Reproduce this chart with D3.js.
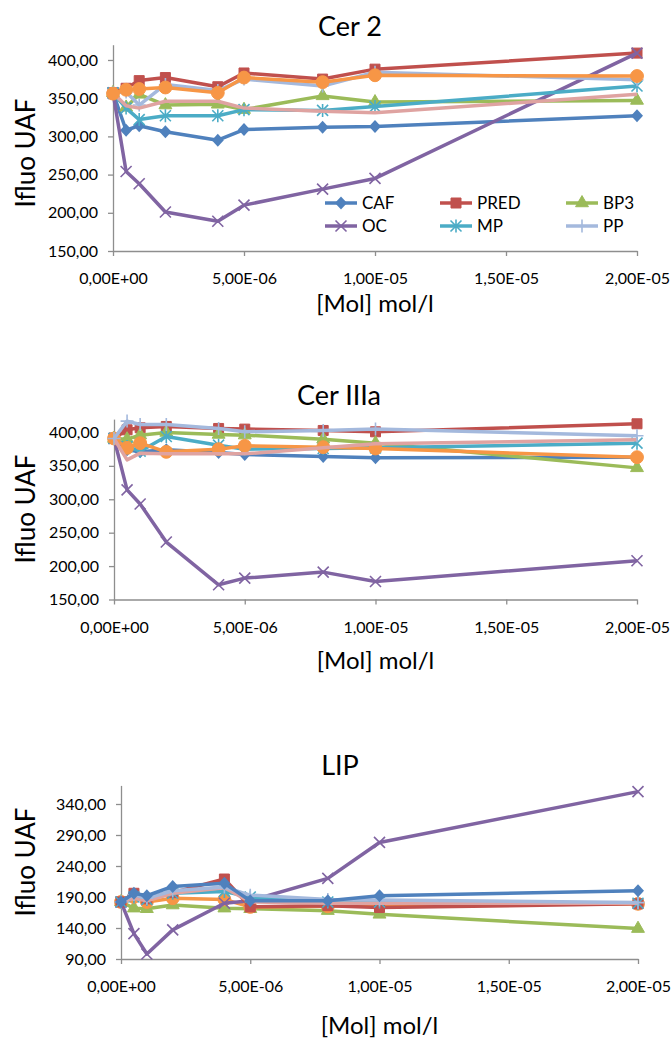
<!DOCTYPE html>
<html><head><meta charset="utf-8">
<script src="https://cdn.jsdelivr.net/npm/d3@7"></script>
<style>body{margin:0;background:#fff}svg{display:block}text{font-family:Lato,"Open Sans",sans-serif;fill:#000}</style>
</head><body><svg id="c" width="671" height="1042"></svg>
<script>
// ---- data ----
const concentrations = [0, 5e-7, 1e-6, 2e-6, 4e-6, 5e-6, 8e-6, 1e-5, 2e-5];
const seriesNames = ["CAF","PRED","BP3","OC","MP","PP","S7","S8"];
const legendNames = ["CAF","PRED","BP3","OC","MP","PP"];
const xTicks = [0, 5e-6, 1e-5, 1.5e-5, 2e-5];
const panelTitles = ["Cer 2","Cer IIIa","LIP"];
const yTicksCer2 = [150,200,250,300,350,400];
const yTicksCer3 = [150,200,250,300,350,400];
const yTicksLip = [90,140,190,240,290,340];
// Cer 2
const cer2_CAF  = [357,308,314,306,295,309,312,313,327];
const cer2_PRED = [357,363,373,377,365,383,375,388,409];
const cer2_BP3  = [357,338,355,341,342,335,353,345,347];
const cer2_OC   = [357,254,238,201,189,210,231,245,409];
const cer2_MP   = [357,337,322,327,327,335,334,339,366];
const cer2_PP   = [357,358,341,368,360,375,366,384,374];
const cer2_S7   = [357,340,337,346,346,337,333,331,355];
const cer2_S8   = [356,361,362,364,357,377,371,380,379];
// Cer IIIa
const cer3_CAF  = [391,374,371,374,370,367,364,362,363];
const cer3_PRED = [391,404,407,409,406,405,403,401,413];
const cer3_BP3  = [391,390,396,400,397,396,390,384,347];
const cer3_OC   = [391,314,293,236,172,182,191,177,208];
const cer3_MP   = [391,379,372,394,381,375,376,377,384];
const cer3_PP   = [391,417,412,412,406,401,403,405,395];
const cer3_S7   = [391,359,369,368,368,368,377,383,389];
const cer3_S8   = [391,377,384,371,375,380,378,376,363];
// LIP
const lip_CAF  = [182,196,192,207,212,184,184,192,200];
const lip_PRED = [182,196,187,197,219,174,176,173,179];
const lip_BP3  = [182,172,171,177,172,171,168,162,139];
const lip_OC   = [182,131,98,137,180,184,220,278,360];
const lip_MP   = [182,190,186,196,199,190,182,182,180];
const lip_PP   = [182,194,188,200,206,193,186,185,181];
const lip_S7   = [182,188,184,196,205,182,180,180,180];
const lip_S8   = [182,190,182,188,186,174,175,177,179];

// ---- styles ----
const colors = {CAF:"#4F81BD",PRED:"#C0504D",BP3:"#9BBB59",OC:"#8064A2",MP:"#4BACC6",PP:"#A4B9DD",S7:"#DFA3A1",S8:"#F79646"};
const markers = {CAF:"diamond",PRED:"square",BP3:"triangle",OC:"x",MP:"asterisk",PP:"plus",S7:"none",S8:"circle"};

const panels = [
  {title:panelTitles[0], yTicks:yTicksCer2, yDom:[150,420], x0:113, x1:637, yb:251, yt:44.7, titleY:36, titleX:350, xlabY:312,
   ylabY:153, order:["CAF","PRED","BP3","OC","MP","PP","S7","S8"], legend:true,
   data:{CAF:cer2_CAF,PRED:cer2_PRED,BP3:cer2_BP3,OC:cer2_OC,MP:cer2_MP,PP:cer2_PP,S7:cer2_S7,S8:cer2_S8}},
  {title:panelTitles[1], yTicks:yTicksCer3, yDom:[150,420], x0:114, x1:637, yb:599.5, yt:419.1, titleY:405, titleX:339, xlabY:669,
   ylabY:509, order:["CAF","PRED","BP3","OC","MP","S8","S7","PP"], legend:false,
   data:{CAF:cer3_CAF,PRED:cer3_PRED,BP3:cer3_BP3,OC:cer3_OC,MP:cer3_MP,PP:cer3_PP,S7:cer3_S7,S8:cer3_S8}},
  {title:panelTitles[2], yTicks:yTicksLip, yDom:[90,370], x0:121, x1:638, yb:959, yt:785.4, titleY:775, titleX:340, xlabY:1034,
   ylabY:862, order:["BP3","S8","OC","PRED","MP","S7","PP","CAF"], legend:false,
   data:{CAF:lip_CAF,PRED:lip_PRED,BP3:lip_BP3,OC:lip_OC,MP:lip_MP,PP:lip_PP,S7:lip_S7,S8:lip_S8}}
];

const svg = d3.select("#c");
const axisCol = "#8E8E8E";

function fmtE(v){
  if (v===0) return "0,00E+00";
  const e = Math.floor(Math.log10(Math.abs(v)) + 1e-9);
  const m = v/Math.pow(10,e);
  const es = (e<0?"-":"+") + String(Math.abs(e)).padStart(2,"0");
  return m.toFixed(2).replace(".",",") + "E" + es;
}
const fmtY = d => d3.format(".2f")(d).replace(".",",");

function drawMarker(g, type, x, y, col){
  if (type==="diamond") {
    g.append("path").attr("d",`M${x},${y-6.5}L${x+6},${y}L${x},${y+6.5}L${x-6},${y}Z`).attr("fill",col);
    return;
  }
  const sym = {square:[d3.symbolSquare,100],triangle:[d3.symbolTriangle,72],circle:[d3.symbolCircle,130]};
  if (sym[type]) {
    g.append("path").attr("d", d3.symbol().type(sym[type][0]).size(sym[type][1])())
      .attr("transform",`translate(${x},${y})`).attr("fill",col).attr("stroke",col).attr("stroke-width",1);
  } else if (type==="x" || type==="asterisk" || type==="plus") {
    const r = 5.5, p = [];
    if (type!=="plus") { p.push(`M${x-r},${y-r}L${x+r},${y+r}`, `M${x-r},${y+r}L${x+r},${y-r}`); }
    if (type==="asterisk" || type==="plus") { p.push(`M${x},${y-r-1}L${x},${y+r+1}`); }
    if (type==="plus") { p.push(`M${x-r-1},${y}L${x+r+1},${y}`); }
    g.append("path").attr("d",p.join("")).attr("stroke",col).attr("stroke-width",1.6).attr("fill","none");
  }
}

panels.forEach(P => {
  const x = d3.scaleLinear().domain([0,2e-5]).range([P.x0,P.x1]);
  const y = d3.scaleLinear().domain(P.yDom).range([P.yb,P.yt]);
  const g = svg.append("g");

  // axes
  const ya = g.append("g").attr("transform",`translate(${P.x0},0)`)
    .call(d3.axisLeft(y).tickValues(P.yTicks).tickFormat(fmtY).tickSize(5).tickPadding(10).tickSizeOuter(0));
  const xa = g.append("g").attr("transform",`translate(0,${P.yb})`)
    .call(d3.axisBottom(x).tickValues(xTicks).tickFormat(fmtE).tickSize(5).tickPadding(17).tickSizeOuter(0));
  [ya,xa].forEach(a=>{
    a.selectAll("path,line").attr("stroke",axisCol).attr("stroke-width",1.3);
    a.selectAll("text").style("font-size","16px").attr("fill","#000").style("font-family","Lato,'Open Sans',sans-serif");
  });

  // titles
  g.append("text").attr("x",P.titleX).attr("y",P.titleY).attr("text-anchor","middle")
    .style("font-size","27px").text(P.title);
  g.append("text").attr("x",(P.x0+P.x1)/2).attr("y",P.xlabY).attr("text-anchor","middle")
    .style("font-size","24px").text("[Mol] mol/l");
  g.append("text").attr("transform",`translate(35,${P.ylabY}) rotate(-90)`).attr("text-anchor","middle")
    .style("font-size","26px").text("Ifluo UAF");

  // series
  const line = d3.line().x((d,i)=>x(concentrations[i])).y(d=>y(d));
  P.order.forEach(name=>{
    const vals = P.data[name], col = colors[name];
    const sg = g.append("g");
    sg.append("path").datum(vals).attr("d",line).attr("fill","none").attr("stroke",col)
      .attr("stroke-width",3.5).attr("stroke-linejoin","round");
    vals.forEach((v,i)=>drawMarker(sg, markers[name], x(concentrations[i]), y(v), col));
  });

  if (P.legend) {
    const cols = [325,440,566], rows = [203,226];
    legendNames.forEach((n,i)=>{
      const lx = cols[i%3], ly = rows[Math.floor(i/3)], col = colors[n];
      const lg = g.append("g");
      lg.append("line").attr("x1",lx).attr("x2",lx+32).attr("y1",ly).attr("y2",ly)
        .attr("stroke",col).attr("stroke-width",3.5);
      drawMarker(lg, markers[n], lx+16, ly, col);
      lg.append("text").attr("x",lx+37).attr("y",ly+6).style("font-size","17px").text(n);
    });
  }
});
</script></body></html>
